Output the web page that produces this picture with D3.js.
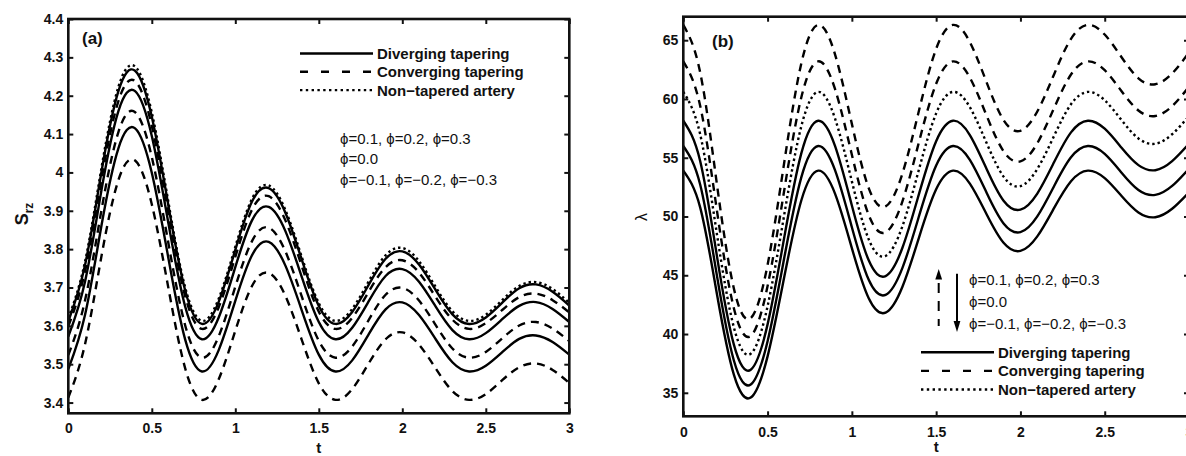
<!DOCTYPE html>
<html>
<head>
<meta charset="utf-8">
<script src="https://cdn.jsdelivr.net/npm/d3@7"></script>
<style>
  body { margin: 0; background: #fff; }
  svg { display: block; }
  text { font-family: "Liberation Sans", Arial, Helvetica, sans-serif; fill: #111; }
</style>
</head>
<body>
<svg width="1186" height="456"></svg>
<script>
// time axis shared by both panels
var tValues = [0, 0.1, 0.2, 0.3, 0.4, 0.5, 0.6, 0.7, 0.8, 0.9, 1.0, 1.1, 1.2, 1.3, 1.4, 1.5,
  1.6, 1.7, 1.8, 1.9, 2.0, 2.1, 2.2, 2.3, 2.4, 2.5, 2.6, 2.7, 2.8, 2.9, 3.0];

// panel (a): S_rz
var srzDiv1 = [3.612, 3.758, 4.005, 4.212, 4.265, 4.145, 3.912, 3.692, 3.605, 3.662, 3.798, 3.924, 3.959, 3.895, 3.770, 3.652,
  3.605, 3.636, 3.708, 3.775, 3.794, 3.760, 3.693, 3.630, 3.605, 3.622, 3.661, 3.698, 3.708, 3.689, 3.653];
var srzDiv2 = [3.572, 3.715, 3.957, 4.160, 4.212, 4.095, 3.866, 3.650, 3.565, 3.621, 3.753, 3.875, 3.910, 3.847, 3.725, 3.610,
  3.565, 3.595, 3.665, 3.730, 3.748, 3.715, 3.650, 3.589, 3.565, 3.581, 3.618, 3.652, 3.662, 3.644, 3.610];
var srzDiv3 = [3.487, 3.628, 3.865, 4.063, 4.115, 3.999, 3.775, 3.564, 3.481, 3.536, 3.665, 3.784, 3.819, 3.757, 3.638, 3.525,
  3.481, 3.510, 3.579, 3.643, 3.661, 3.628, 3.565, 3.505, 3.481, 3.496, 3.532, 3.566, 3.575, 3.558, 3.525];
var srzConv1 = [3.599, 3.742, 3.984, 4.186, 4.238, 4.121, 3.892, 3.677, 3.592, 3.648, 3.780, 3.903, 3.938, 3.875, 3.753, 3.637,
  3.592, 3.621, 3.690, 3.753, 3.771, 3.739, 3.675, 3.616, 3.592, 3.607, 3.642, 3.675, 3.684, 3.667, 3.635];
var srzConv2 = [3.524, 3.666, 3.905, 4.105, 4.157, 4.040, 3.814, 3.601, 3.517, 3.572, 3.702, 3.821, 3.856, 3.794, 3.674, 3.561,
  3.517, 3.546, 3.616, 3.681, 3.699, 3.666, 3.602, 3.541, 3.517, 3.532, 3.568, 3.601, 3.610, 3.593, 3.560];
var srzConv3 = [3.413, 3.552, 3.785, 3.980, 4.031, 3.917, 3.697, 3.489, 3.407, 3.460, 3.587, 3.704, 3.738, 3.678, 3.561, 3.450,
  3.407, 3.435, 3.503, 3.565, 3.583, 3.551, 3.489, 3.430, 3.407, 3.422, 3.459, 3.492, 3.502, 3.485, 3.451];
var srzNon = [3.620, 3.767, 4.015, 4.223, 4.276, 4.156, 3.921, 3.700, 3.613, 3.670, 3.806, 3.931, 3.966, 3.902, 3.777, 3.659,
  3.613, 3.644, 3.717, 3.784, 3.803, 3.769, 3.701, 3.638, 3.613, 3.629, 3.668, 3.704, 3.714, 3.696, 3.660];

// panel (b): lambda
var lamDiv1 = [58.15, 54.73, 46.59, 39.10, 36.96, 40.82, 48.31, 55.37, 58.15, 56.01, 50.94, 46.27, 44.93, 47.34, 52.01, 56.41,
  58.15, 56.93, 54.02, 51.34, 50.58, 51.95, 54.63, 57.16, 58.15, 57.47, 55.85, 54.37, 53.94, 54.71, 56.19];
var lamDiv2 = [56.0, 52.72, 44.93, 37.75, 35.70, 39.39, 46.57, 53.33, 56.0, 53.95, 49.09, 44.61, 43.33, 45.63, 50.11, 54.34,
  56.0, 54.82, 52.00, 49.41, 48.67, 50.01, 52.60, 55.04, 56.0, 55.33, 53.73, 52.26, 51.84, 52.60, 54.07];
var lamDiv3 = [53.9, 50.78, 43.37, 36.54, 34.59, 38.10, 44.93, 51.36, 53.9, 51.95, 47.31, 43.04, 41.82, 44.02, 48.29, 52.31,
  53.9, 52.80, 50.17, 47.76, 47.07, 48.31, 50.73, 53.00, 53.9, 53.26, 51.74, 50.34, 49.94, 50.66, 52.06];
var lamConv1 = [66.3, 62.27, 52.69, 43.87, 41.35, 45.89, 54.71, 63.02, 66.3, 63.80, 57.88, 52.42, 50.86, 53.66, 59.12, 64.27,
  66.3, 64.84, 61.39, 58.20, 57.29, 58.93, 62.11, 65.12, 66.3, 65.48, 63.55, 61.76, 61.25, 62.17, 63.95];
var lamConv2 = [63.2, 59.42, 50.46, 42.20, 39.84, 44.08, 52.34, 60.13, 63.2, 60.85, 55.26, 50.12, 48.65, 51.29, 56.44, 61.29,
  63.2, 61.82, 58.56, 55.55, 54.69, 56.23, 59.24, 62.08, 63.2, 62.45, 60.66, 59.02, 58.55, 59.39, 61.04];
var lamNon = [60.6, 57.00, 48.45, 40.57, 38.32, 42.37, 50.25, 57.67, 60.6, 58.34, 52.99, 48.05, 46.64, 49.18, 54.11, 58.77,
  60.6, 59.30, 56.23, 53.39, 52.58, 54.04, 56.87, 59.55, 60.6, 59.89, 58.20, 56.64, 56.19, 57.00, 58.55];

var xTicks = [0, 0.5, 1, 1.5, 2, 2.5, 3];
var xTickLabels = ["0", "0.5", "1", "1.5", "2", "2.5", "3"];
var yTicksA = [3.4, 3.5, 3.6, 3.7, 3.8, 3.9, 4.0, 4.1, 4.2, 4.3, 4.4];
var yTickLabelsA = ["3.4", "3.5", "3.6", "3.7", "3.8", "3.9", "4", "4.1", "4.2", "4.3", "4.4"];
var yTicksB = [35, 40, 45, 50, 55, 60, 65];
var yTickLabelsB = ["35", "40", "45", "50", "55", "60", "65"];

var legendLabels = ["Diverging tapering", "Converging tapering", "Non\u2212tapered artery"];
var phiLabels = ["\u03d5=0.1, \u03d5=0.2, \u03d5=0.3", "\u03d5=0.0", "\u03d5=\u22120.1, \u03d5=\u22120.2, \u03d5=\u22120.3"];

var styles = {
  solid: null,
  dashed: "8,6",
  dotted: "2.4,3"
};

var svg = d3.select("svg");

function drawPanel(p) {
  var x = d3.scaleLinear().domain([0, 3]).range([p.left, p.right]);
  var y = d3.scaleLinear().domain(p.yDomain).range([p.bottom, p.top]);

  var g = svg.append("g");

  g.append("clipPath").attr("id", p.id + "-clip")
    .append("rect")
    .attr("x", p.left).attr("y", p.top)
    .attr("width", p.right - p.left).attr("height", p.bottom - p.top);

  var line = d3.line()
    .x((d, i) => x(tValues[i]))
    .y(d => y(d))
    .curve(d3.curveNatural);

  g.append("g")
    .attr("clip-path", "url(#" + p.id + "-clip)")
    .selectAll("path")
    .data(p.series)
    .enter()
    .append("path")
    .attr("d", d => line(d.values))
    .attr("fill", "none")
    .attr("stroke", "#000")
    .attr("stroke-width", 2.4)
    .attr("stroke-dasharray", d => styles[d.style]);

  // axes, ticks inside like matlab
  var ax = g.append("g").attr("class", "axes");
  ax.append("g")
    .attr("transform", "translate(0," + p.bottom + ")")
    .call(d3.axisBottom(x).tickValues(xTicks).tickFormat((d, i) => xTickLabels[i])
      .tickSizeInner(-5).tickSizeOuter(0).tickPadding(p.xPad));
  ax.append("g")
    .attr("transform", "translate(0," + p.top + ")")
    .call(d3.axisTop(x).tickValues(xTicks).tickFormat("").tickSizeInner(-5).tickSizeOuter(0));
  ax.append("g")
    .attr("transform", "translate(" + p.left + ",0)")
    .call(d3.axisLeft(y).tickValues(p.yTicks).tickFormat((d, i) => p.yTickLabels[i])
      .tickSizeInner(-5).tickSizeOuter(0).tickPadding(5));
  ax.append("g")
    .attr("transform", "translate(" + p.right + ",0)")
    .call(d3.axisRight(y).tickValues(p.yTicks).tickFormat("").tickSizeInner(-5).tickSizeOuter(0));

  ax.selectAll(".domain").remove();
  ax.selectAll(".tick line").attr("stroke", "#111").attr("stroke-width", 2);
  ax.selectAll(".tick text")
    .attr("fill", "#111")
    .style("font-size", "14px")
    .style("font-weight", "bold")
    .style("font-family", "'Liberation Sans', Arial, sans-serif");

  g.append("rect")
    .attr("x", p.left).attr("y", p.top)
    .attr("width", p.right - p.left).attr("height", p.bottom - p.top)
    .attr("fill", "none").attr("stroke", "#111").attr("stroke-width", 2.6);

  // x label
  g.append("text")
    .attr("x", (p.left + p.right) / 2).attr("y", p.xLabelY)
    .attr("text-anchor", "middle")
    .style("font-size", "15px").style("font-weight", "bold")
    .text("t");

  // panel tag
  g.append("text")
    .attr("x", p.tag[0]).attr("y", p.tag[1])
    .style("font-size", "17px").style("font-weight", "bold")
    .text(p.tagText);

  // legend
  var leg = g.append("g");
  legendLabels.forEach(function (lab, i) {
    var yy = p.legend.y + i * p.legend.dy;
    leg.append("line")
      .attr("x1", p.legend.x1).attr("x2", p.legend.x2)
      .attr("y1", yy).attr("y2", yy)
      .attr("stroke", "#000").attr("stroke-width", 2.4)
      .attr("stroke-dasharray", i == 0 ? null : (i == 1 ? "8,13" : "2.4,3.4"));
    leg.append("text")
      .attr("x", p.legend.x2 + 4).attr("y", yy + 5.5)
      .style("font-size", "15px").style("font-weight", "bold")
      .text(lab);
  });

  phiLabels.forEach(function (lab, i) {
    g.append("text")
      .attr("x", p.phi.x).attr("y", p.phi.y + i * p.phi.dy)
      .attr("fill", "#222")
      .style("font-size", "15px")
      .text(lab);
  });

  return { x: x, y: y, g: g };
}

var pa = drawPanel({
  id: "pa",
  left: 68.3, right: 569.3, top: 19, bottom: 413.3,
  yDomain: [3.372, 4.4],
  yTicks: yTicksA, yTickLabels: yTickLabelsA,
  xPad: 10, xLabelY: 453,
  tag: [82, 44], tagText: "(a)",
  legend: { x1: 300, x2: 373, y: 53.5, dy: 18.3 },
  phi: { x: 340, y: 143.5, dy: 20.8 },
  series: [
    { style: "dotted", values: srzNon },
    { style: "dashed", values: srzConv1 },
    { style: "dashed", values: srzConv2 },
    { style: "dashed", values: srzConv3 },
    { style: "solid", values: srzDiv1 },
    { style: "solid", values: srzDiv2 },
    { style: "solid", values: srzDiv3 }
  ]
});

var pb = drawPanel({
  id: "pb",
  left: 683.3, right: 1189, top: 16.7, bottom: 416.3,
  yDomain: [33, 67],
  yTicks: yTicksB, yTickLabels: yTickLabelsB,
  xPad: 11, xLabelY: 452,
  tag: [712, 47], tagText: "(b)",
  legend: { x1: 921, x2: 994, y: 352.3, dy: 18.6 },
  phi: { x: 969, y: 284.5, dy: 22 },
  series: [
    { style: "dotted", values: lamNon },
    { style: "dashed", values: lamConv1 },
    { style: "dashed", values: lamConv2 },
    { style: "solid", values: lamDiv1 },
    { style: "solid", values: lamDiv2 },
    { style: "solid", values: lamDiv3 }
  ]
});

// y labels
svg.append("text")
  .attr("transform", "translate(28,214) rotate(-90)")
  .attr("text-anchor", "middle")
  .style("font-size", "18px").style("font-weight", "bold")
  .text("S")
  .append("tspan").attr("dy", 5).style("font-size", "12px").text("rz");

svg.append("text")
  .attr("transform", "translate(647,217) rotate(-90)")
  .attr("text-anchor", "middle")
  .style("font-size", "16px")
  .text("\u03bb");

// arrows in panel (b): dashed up, solid down
var arrows = svg.append("g").attr("stroke", "#000").attr("fill", "#000");
arrows.append("line")
  .attr("x1", 938.7).attr("x2", 938.7).attr("y1", 283).attr("y2", 326)
  .attr("stroke-width", 2).attr("stroke-dasharray", "10,8");
arrows.append("path")
  .attr("d", "M938.7,269 L935.3,279.5 L942.1,279.5 Z").attr("stroke", "none");
arrows.append("line")
  .attr("x1", 957).attr("x2", 957).attr("y1", 273.7).attr("y2", 322)
  .attr("stroke-width", 2);
arrows.append("path")
  .attr("d", "M957,332 L953.6,321 L960.4,321 Z").attr("stroke", "none");
</script>
</body>
</html>
